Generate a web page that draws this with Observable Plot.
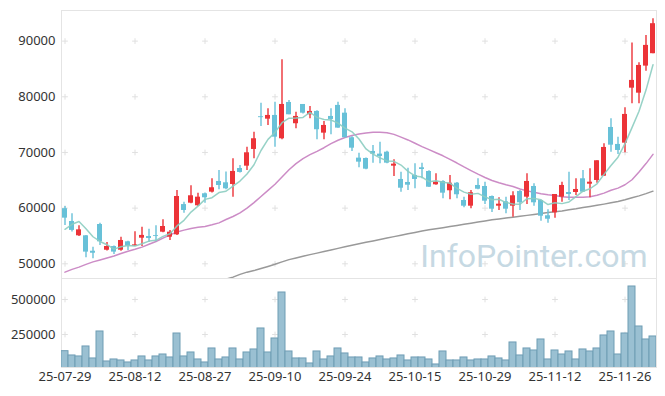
<!DOCTYPE html>
<html>
<head>
<meta charset="utf-8">
<script src="https://cdn.jsdelivr.net/npm/d3@7"></script>
<script src="https://cdn.jsdelivr.net/npm/@observablehq/plot@0.6"></script>
<style>
  html, body { margin: 0; padding: 0; background: #fff; }
  #chart { width: 665px; height: 396px; overflow: hidden; }
  #chart svg { display: block; }
</style>
</head>
<body>
<div id="chart"></div>
<script>
// ---- data ----
const dates = [
  "25-07-29","25-07-30","25-07-31","25-08-01","25-08-04","25-08-05","25-08-06","25-08-07","25-08-08","25-08-11",
  "25-08-12","25-08-13","25-08-14","25-08-18","25-08-19","25-08-20","25-08-21","25-08-22","25-08-25","25-08-26",
  "25-08-27","25-08-28","25-08-29","25-09-01","25-09-02","25-09-03","25-09-04","25-09-05","25-09-08","25-09-09",
  "25-09-10","25-09-11","25-09-12","25-09-15","25-09-16","25-09-17","25-09-18","25-09-19","25-09-22","25-09-23",
  "25-09-24","25-09-25","25-09-26","25-09-29","25-09-30","25-10-01","25-10-02","25-10-10","25-10-13","25-10-14",
  "25-10-15","25-10-16","25-10-17","25-10-20","25-10-21","25-10-22","25-10-23","25-10-24","25-10-27","25-10-28",
  "25-10-29","25-10-30","25-10-31","25-11-03","25-11-04","25-11-05","25-11-06","25-11-07","25-11-10","25-11-11",
  "25-11-12","25-11-13","25-11-14","25-11-17","25-11-18","25-11-19","25-11-20","25-11-21","25-11-24","25-11-25",
  "25-11-26","25-11-27","25-11-28","25-12-01","25-12-02"
];
const open = [
  59900,57600,55030,55030,52260,57060,52440,53100,52440,53950,
  53160,54600,54900,55050,55680,54780,55210,60640,60890,60420,
  62580,62870,64790,64550,64250,67120,67540,70540,76420,75980,
  76650,72460,78980,75160,78620,76770,77370,73470,76470,78450,
  77060,72640,68980,68920,70180,69700,70050,67540,65150,64610,
  65870,67250,66580,64190,64790,63120,64480,61370,60350,64070,
  63890,62090,60350,61140,60350,62990,61970,63890,61370,58630,
  59160,61970,62810,62810,65270,64300,64970,65740,74490,71440,
  71670,81550,80650,85510,87740
];
const high = [
  60300,59000,56830,55100,52980,57300,53830,53200,54780,54060,
  55750,56580,56220,56830,57900,56000,63170,61070,64000,62690,
  62700,65280,66770,66470,68870,67660,70950,73650,78860,77850,
  79040,86660,79340,77240,78620,78270,77500,75570,77850,79040,
  77850,72800,69870,69000,71260,71850,70230,68690,66460,67180,
  67970,68080,66700,66170,64900,65870,64600,61970,63170,65270,
  64660,62200,61860,61970,62940,63170,66170,64370,61400,59700,
  62450,64670,66460,65270,66770,67070,68510,71560,76050,72750,
  78030,89640,86120,91020,94030
];
const low = [
  56900,55700,54900,51080,50900,53290,52300,51670,52260,52390,
  53100,53110,53830,53950,55600,54190,55100,59100,60800,60300,
  60890,62700,63300,63300,61970,66300,66770,68870,74670,74850,
  70950,72300,76770,74260,76900,76050,72280,72280,73180,74370,
  72640,70180,67250,66900,68080,67970,67970,65690,62870,63170,
  63480,65270,63700,64100,61680,61500,61680,60060,59880,63300,
  60660,59220,59580,58990,58370,59580,60660,60350,57650,57300,
  58190,61070,61370,62270,62870,61860,64480,65740,70050,69640,
  69950,78750,78750,84610,87740
];
const close = [
  58200,56000,56100,52100,51900,53950,53110,52100,54190,53160,
  53400,55100,54540,54900,56700,55680,62090,59580,62220,61970,
  61860,63660,64070,63470,66590,66410,69940,72460,76250,76650,
  72750,78620,76770,76470,77060,77370,74080,74850,75930,74370,
  72640,70770,68260,67000,69700,69280,68080,67900,63580,64120,
  65150,66940,63760,64670,62690,64480,62400,60350,62760,63400,
  61250,59810,60710,59810,62220,60960,64790,60960,58550,58010,
  62450,64070,62450,63350,62870,64660,68510,70900,71310,70360,
  76830,82940,85630,89230,93130
];
const volume = [
  130700,100000,92900,164300,78600,271400,57100,71400,64300,50000,
  64300,92900,64300,92900,107000,85700,257000,92900,121400,71400,
  50000,150000,71400,85700,150000,71400,121400,142900,292900,121400,
  221400,550000,128600,78600,78600,42900,128600,71400,92900,150000,
  114300,85700,85700,50000,78600,92900,71400,78600,100000,64300,
  85700,85700,71400,35700,128600,64300,64300,85700,64300,71400,
  71400,92900,78600,64300,192900,100000,150000,135700,214300,71400,
  135700,107000,128600,71400,142900,128600,150000,242900,271400,107000,
  257100,592900,307100,214300,235700
];
const ma5 = [
  56200,57100,57600,56300,54860,54010,53430,52630,53050,53300,
  53190,53590,54080,54220,54930,55410,56810,57810,59290,60360,
  61570,61880,62790,63030,63940,64860,66120,67800,70350,72350,
  73610,75340,76160,76200,76300,77220,76300,75930,75830,75270,
  74360,73710,72410,70630,69710,69020,68480,68410,67740,66610,
  65790,65580,64740,64930,64640,64490,63550,62880,62510,62650,
  62020,61510,61590,61000,60760,60700,61700,61750,61500,60650,
  60950,60810,61110,62070,63040,63480,64370,66060,67650,69150,
  71580,74470,77410,81200,85750
];
const ma20 = [
  48500,49000,49400,49900,50350,50700,51050,51400,51850,52250,
  52600,53000,53500,54000,54600,55200,55700,56050,56350,56550,
  56700,57000,57350,57950,58500,59150,60000,61000,62100,63200,
  64300,65600,66900,68000,68900,69600,70200,70850,71600,72200,
  72700,73050,73300,73500,73650,73650,73550,73250,72750,72250,
  71650,71050,70500,69950,69400,68750,68100,67400,66750,66100,
  65500,64970,64550,64200,63900,63450,63100,62850,62600,62400,
  62250,62050,61970,61970,61970,62050,62300,62700,63200,63600,
  64200,65100,66500,68000,69650
];
// long moving average, visible only from 25-08-29 onward (earlier values fall below the chart)
const maLongFrom = "25-08-29";
const maLong = [
  46900,47250,47600,48100,48500,48780,49150,49530,49920,50350,
  50750,51050,51350,51650,51920,52200,52480,52770,53050,53330,
  53600,53860,54110,54370,54630,54880,55130,55380,55640,55890,
  56100,56300,56480,56680,56880,57100,57300,57500,57700,57900,
  58060,58220,58380,58540,58700,58870,59030,59200,59350,59500,
  59700,59880,60100,60300,60500,60720,60950,61200,61500,61850,
  62200,62600,63050
];
const priceTicks = [50000, 60000, 70000, 80000, 90000];
const volumeTicks = [250000, 500000];
const dateTicks = ["25-07-29","25-08-12","25-08-27","25-09-10","25-09-24","25-10-15","25-10-29","25-11-12","25-11-26"];
const watermark = "InfoPointer.com";

// ---- tables built from the arrays ----
const UP = "#ec3338", DOWN = "#68c1d8";
const candles = dates.map((d, i) => ({
  date: d, open: open[i], high: high[i], low: low[i], close: close[i],
  col: close[i] >= open[i] ? UP : DOWN
}));
const vol = dates.map((d, i) => ({date: d, v: volume[i]}));
const ma5Data = dates.map((d, i) => ({date: d, v: ma5[i]}));
const ma20Data = dates.map((d, i) => ({date: d, v: ma20[i]}));
const startIdx = dates.indexOf(maLongFrom);
const maLongData = maLong.map((v, k) => ({date: dates[startIdx + k], v}));
const priceGrid = dateTicks.flatMap(d => priceTicks.map(v => ({date: d, v})));
const volGrid = dateTicks.flatMap(d => volumeTicks.map(v => ({date: d, v})));

const W = 665, ML = 61, MR = 9;
const font = {fontSize: "13px", fontFamily: "'Noto Sans', sans-serif", color: "#333", background: "#fff"};
const fmt = d3.format("d");

const pricePlot = Plot.plot({
  width: W, height: 278,
  marginLeft: ML, marginRight: MR, marginTop: 10, marginBottom: 0,
  style: font,
  x: {type: "band", domain: dates, padding: 0, axis: null},
  y: {domain: [47360, 95500], ticks: priceTicks, tickSize: 0, tickPadding: 6, tickFormat: fmt, label: null},
  color: {type: "identity"},
  marks: [
    Plot.frame({stroke: "#e4e4e4"}),
    Plot.dot(priceGrid, {x: "date", y: "v", symbol: "plus", r: 2, stroke: "#e0e0e0", strokeWidth: 1}),
    Plot.text([watermark], {frameAnchor: "bottom-right", textAnchor: "end", lineAnchor: "bottom", dx: -9, dy: -12,
      fontSize: 32, fontFamily: "Roboto, sans-serif", fill: "#c6d9e3"}),
    Plot.line(maLongData, {x: "date", y: "v", stroke: "#999999", strokeWidth: 1.5, clip: true}),
    Plot.line(ma20Data, {x: "date", y: "v", stroke: "#cc8cc6", strokeWidth: 1.5, clip: true}),
    Plot.ruleX(candles, {x: "date", y1: "low", y2: "high", stroke: "col", strokeWidth: 1.4}),
    Plot.barY(candles, {x: "date", y1: "open", y2: "close", fill: "col", insetLeft: 1, insetRight: 1}),
    Plot.line(ma5Data, {x: "date", y: "v", stroke: "#8ccdc1", strokeWidth: 1.5, strokeOpacity: 0.9, clip: true})
  ]
});

const volumePlot = Plot.plot({
  width: W, height: 118,
  marginLeft: ML, marginRight: MR, marginTop: 0, marginBottom: 29,
  style: font,
  x: {type: "band", domain: dates, padding: 0, ticks: dateTicks, tickSize: 0, tickPadding: 4, label: null},
  y: {domain: [14000, 650000], ticks: volumeTicks, tickSize: 0, tickPadding: 6, tickFormat: fmt, label: null},
  marks: [
    Plot.frame({stroke: "#e4e4e4"}),
    Plot.dot(volGrid, {x: "date", y: "v", symbol: "plus", r: 2, stroke: "#e0e0e0", strokeWidth: 1}),
    Plot.barY(vol, {x: "date", y1: 0, y2: "v", fill: "#9ac0d2", stroke: "#6f9db4", strokeWidth: 1, insetLeft: 0, insetRight: 0, clip: true})
  ]
});

const chartDiv = document.getElementById("chart");
chartDiv.appendChild(pricePlot);
chartDiv.appendChild(volumePlot);
</script>
</body>
</html>
